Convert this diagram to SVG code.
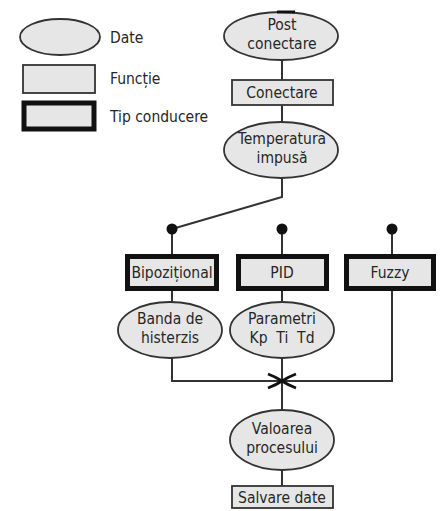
<svg xmlns="http://www.w3.org/2000/svg" width="441" height="511" viewBox="0 0 441 511">
  <style>
    .data { fill: #e6e6e6; stroke: #333; stroke-width: 1.8; }
    .func { fill: #e6e6e6; stroke: #333; stroke-width: 1.8; }
    .mode { fill: #e6e6e6; stroke: #111; stroke-width: 5; }
    .wire { fill: none; stroke: #333; stroke-width: 2; }
    .dot { fill: #111; }
    text { font-family: "Liberation Sans Narrow", "DejaVu Sans Condensed", "Liberation Sans", sans-serif; font-size: 15.5px; fill: #262626; }
    .c { text-anchor: middle; }
  </style>

  <!-- legend -->
  <g id="legend">
    <ellipse class="data" cx="60" cy="37" rx="40" ry="18"/>
    <text x="110" y="43">Date</text>
    <rect class="func" x="23" y="65" width="72" height="28"/>
    <text x="110" y="84">Funcție</text>
    <rect class="mode" x="24" y="103" width="70" height="26"/>
    <text x="110" y="122">Tip conducere</text>
  </g>

  <!-- connectors -->
  <g id="connectors">
    <line class="wire" x1="282" y1="60" x2="282" y2="80"/>
    <line class="wire" x1="282" y1="105" x2="282" y2="122"/>
    <polyline class="wire" points="282,178 282,197 172,229"/>
    <line class="wire" x1="172" y1="229" x2="172" y2="254"/>
    <line class="wire" x1="282" y1="229" x2="282" y2="254"/>
    <line class="wire" x1="392" y1="229" x2="392" y2="254"/>
    <line class="wire" x1="172" y1="291" x2="172" y2="302"/>
    <line class="wire" x1="282" y1="291" x2="282" y2="302"/>
    <polyline class="wire" points="172,358 172,381 392,381 392,291"/>
    <line class="wire" x1="282" y1="358" x2="282" y2="410"/>
    <line class="wire" x1="282" y1="470" x2="282" y2="486"/>
    <circle class="dot" cx="172" cy="229" r="5.5"/>
    <circle class="dot" cx="282" cy="229" r="5.5"/>
    <circle class="dot" cx="392" cy="229" r="5.5"/>
    <!-- junction cross -->
    <path d="M268,374 Q276,377 282,381 Q288,385 296,388 M268,388 Q276,385 282,381 Q288,377 296,374" fill="none" stroke="#111" stroke-width="2.8"/>
  </g>

  <g id="post-conectare">
    <ellipse class="data" cx="281" cy="36" rx="57" ry="24"/>
    <line x1="277" y1="12" x2="295" y2="12" stroke="#111" stroke-width="3"/>
    <text class="c" x="282" y="30">Post</text>
    <text class="c" x="282" y="49">conectare</text>
  </g>

  <g id="conectare">
    <rect class="func" x="232" y="80" width="101" height="25"/>
    <text class="c" x="282" y="98">Conectare</text>
  </g>

  <g id="temperatura">
    <ellipse class="data" cx="281" cy="150" rx="57" ry="28"/>
    <text class="c" x="282" y="144">Temperatura</text>
    <text class="c" x="282" y="163">impusă</text>
  </g>

  <g id="bipozitional">
    <rect class="mode" x="127.5" y="256.5" width="89" height="32"/>
    <text class="c" x="172" y="278">Bipozițional</text>
  </g>

  <g id="pid">
    <rect class="mode" x="238.5" y="256.5" width="88" height="32"/>
    <text class="c" x="282" y="278">PID</text>
  </g>

  <g id="fuzzy">
    <rect class="mode" x="346.5" y="256.5" width="87" height="32"/>
    <text class="c" x="390" y="278">Fuzzy</text>
  </g>

  <g id="banda">
    <ellipse class="data" cx="170" cy="330" rx="52" ry="28"/>
    <text class="c" x="170" y="324">Banda de</text>
    <text class="c" x="170" y="343">histerzis</text>
  </g>

  <g id="parametri">
    <ellipse class="data" cx="282" cy="330" rx="52" ry="28"/>
    <text class="c" x="282" y="324">Parametri</text>
    <text class="c" x="282" y="343" xml:space="preserve">Kp  Ti  Td</text>
  </g>

  <g id="valoarea">
    <ellipse class="data" cx="282" cy="440" rx="52" ry="30"/>
    <text class="c" x="282" y="434">Valoarea</text>
    <text class="c" x="282" y="453">procesului</text>
  </g>

  <g id="salvare">
    <rect class="func" x="232" y="486" width="101" height="22"/>
    <text class="c" x="282" y="503">Salvare date</text>
  </g>
</svg>
